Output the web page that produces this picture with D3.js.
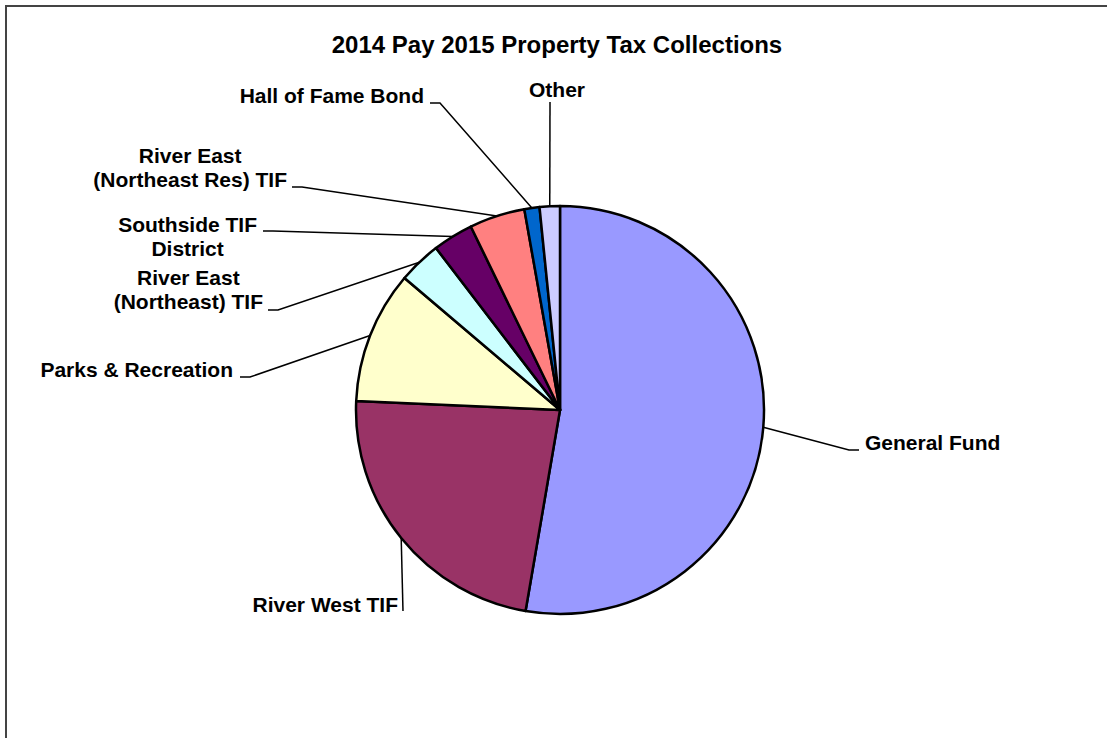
<!DOCTYPE html>
<html>
<head>
<meta charset="utf-8">
<script src="https://cdn.jsdelivr.net/npm/d3@7"></script>
<style>
  body { margin: 0; background: #fff; }
  text { font-family: "Liberation Sans", Arial, sans-serif; font-weight: bold; fill: #000; }
</style>
</head>
<body>
<svg width="1107" height="738"></svg>
<script>
// data (percent of collections)
var categories = ["General Fund", "River West TIF", "Parks & Recreation",
  "River East (Northeast) TIF", "Southside TIF District",
  "River East (Northeast Res) TIF", "Hall of Fame Bond", "Other"];
var values = [52.7, 23.0, 10.5, 3.4, 3.2, 4.4, 1.2, 1.6];
var colors = ["#9999ff", "#993366", "#ffffcc", "#ccffff", "#660066", "#ff8080", "#0066cc", "#ccccff"];
// how each label is broken into lines
var labelLines = [
  ["General Fund"], ["River West TIF"], ["Parks & Recreation"],
  ["River East", "(Northeast) TIF"], ["Southside TIF", "District"],
  ["River East", "(Northeast Res) TIF"], ["Hall of Fame Bond"], ["Other"]
];

var svg = d3.select("svg"),
  width = +svg.attr("width"),
  height = +svg.attr("height");

var cx = 560, cy = 410, r = 204;

// leader + label layout: elbow, end of leader, text anchor point
var layout = [
  { elbow: [849, 450], end: [859, 450], x: 865, y: 450, align: "start" },
  { elbow: [403, 611], end: [403, 611], x: 398, y: 612, align: "end" },
  { elbow: [250, 377], end: [240, 377], x: 233, y: 377, align: "end" },
  { elbow: [278, 310], end: [268, 310], x: 263, y: 285, align: "block" },
  { elbow: [273, 231], end: [263, 231], x: 257, y: 232, align: "block" },
  { elbow: [302, 187], end: [292, 187], x: 287, y: 163, align: "block" },
  { elbow: [440, 103], end: [430, 103], x: 424, y: 103, align: "end" },
  { elbow: [550, 102], end: [550, 102], x: 557, y: 97, align: "middle" }
];

// frame
svg.append("rect")
  .attr("x", 6).attr("y", 6)
  .attr("width", width + 10).attr("height", height + 10)
  .attr("fill", "none")
  .attr("stroke", "#444")
  .attr("stroke-width", 2);

svg.append("text")
  .attr("x", 557).attr("y", 53)
  .attr("text-anchor", "middle")
  .style("font-size", "24px")
  .text("2014 Pay 2015 Property Tax Collections");

var pie = d3.pie().sort(null).value(function (d) { return d; });
var arcs = pie(values);

var arc = d3.arc().innerRadius(0).outerRadius(r);
var rim = d3.arc().innerRadius(r).outerRadius(r);

var g = svg.append("g").attr("transform", "translate(" + cx + "," + cy + ")");

g.selectAll("path")
  .data(arcs)
  .enter()
  .append("path")
  .attr("d", arc)
  .attr("fill", function (d, i) { return colors[i]; })
  .attr("stroke", "#000")
  .attr("stroke-width", 2.5)
  .attr("stroke-linejoin", "round");

// leader lines
svg.append("g")
  .selectAll("polyline")
  .data(arcs)
  .enter()
  .append("polyline")
  .attr("points", function (d, i) {
    var c = rim.centroid(d);
    var L = layout[i];
    return [[cx + c[0], cy + c[1]], L.elbow, L.end].map(function (p) { return p.join(","); }).join(" ");
  })
  .attr("fill", "none")
  .attr("stroke", "#000")
  .attr("stroke-width", 1.5);

// labels
var labels = svg.append("g")
  .selectAll("text")
  .data(arcs)
  .enter()
  .append("text")
  .style("font-size", "21px")
  .attr("text-anchor", function (d, i) {
    var a = layout[i].align;
    return a === "block" ? "middle" : a;
  })
  .attr("y", function (d, i) { return layout[i].y; });

labels.each(function (d, i) {
  var t = d3.select(this);
  labelLines[i].forEach(function (line, k) {
    t.append("tspan")
      .attr("x", layout[i].x)
      .attr("dy", k === 0 ? 0 : 24)
      .text(line);
  });
  if (layout[i].align === "block") {
    // center the lines on a block whose right edge sits at x
    var w = d3.max(t.selectAll("tspan").nodes(), function (n) { return n.getComputedTextLength(); });
    t.selectAll("tspan").attr("x", layout[i].x - w / 2);
  }
});
</script>
</body>
</html>
